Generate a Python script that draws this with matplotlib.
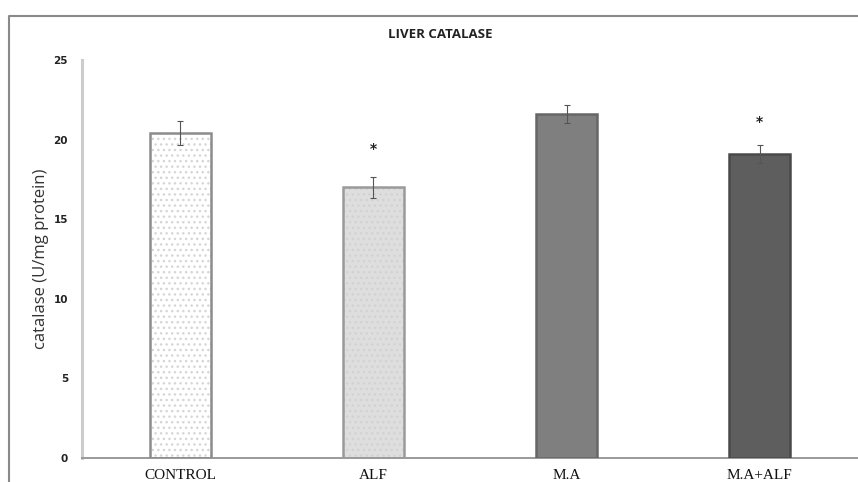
import matplotlib
matplotlib.use("Agg")
import matplotlib.pyplot as plt
from matplotlib.lines import Line2D

categories = ["CONTROL", "ALF", "M.A", "M.A+ALF"]
values = [20.4, 17.0, 21.6, 19.1]
errors = [0.75, 0.65, 0.55, 0.55]
significant = [False, True, False, True]
star_heights = [None, 19.4, None, 21.1]
yticks = [0, 5, 10, 15, 20, 25]

face_colors = ["#ffffff", "#dedede", "#7f7f7f", "#5e5e5e"]
hatch_colors = ["#d6d6d6", "#d2d2d2", None, None]
edge_colors = ["#8c8c8c", "#9a9a9a", "#666666", "#4a4a4a"]

W, H = 858, 482
fig = plt.figure(figsize=(W / 100, H / 100), dpi=100)
ax = fig.add_axes([82 / W, 1 - 458 / H, (858 - 82) / W, (458 - 60) / H])

x = list(range(len(categories)))
bw = 0.316
for i in x:
    if hatch_colors[i]:
        ax.bar(i, values[i], width=bw, color=face_colors[i], edgecolor=hatch_colors[i],
               hatch="...", linewidth=0, zorder=2)
        ax.bar(i, values[i], width=bw, fill=False, edgecolor=edge_colors[i],
               linewidth=1.8, zorder=3)
    else:
        ax.bar(i, values[i], width=bw, color=face_colors[i], edgecolor=edge_colors[i],
               linewidth=1.8, zorder=3)

ax.errorbar(x, values, yerr=errors, fmt="none", ecolor="#555555", elinewidth=0.8,
            capsize=2, capthick=0.8, zorder=4)

for i in x:
    if significant[i]:
        ax.text(i, star_heights[i], "*", ha="center", va="center", fontsize=10,
                fontweight="bold", color="#222222", zorder=5)

ax.set_xlim(-0.51, 3.51)
ax.set_ylim(0, 25)
ax.set_yticks(yticks)
ax.set_yticklabels([str(t) for t in yticks], fontsize=7.5, fontweight="bold",
                   color="#222222", family="DejaVu Sans")
ax.set_xticks(x)
ax.set_xticklabels(categories, fontsize=11, family="Liberation Serif", color="#111111")
ax.tick_params(axis="y", length=0, pad=10)
ax.tick_params(axis="x", length=0, pad=8)

for s in ["top", "right"]:
    ax.spines[s].set_visible(False)
ax.spines["left"].set_color("#cccccc")
ax.spines["left"].set_linewidth(2.2)
ax.spines["bottom"].set_color("#9a9a9a")
ax.spines["bottom"].set_linewidth(1.4)

ax.set_ylabel("catalase (U/mg protein)", fontsize=12, family="Open Sans",
              color="#333333", labelpad=3)

fig.text(440 / W, 1 - 34 / H, "LIVER CATALASE", ha="center", va="center",
         fontsize=9.5, fontweight="bold", family="Open Sans", color="#222222")

# outer chart-area border (left and top edges)
fig.add_artist(Line2D([9 / W, 9 / W, 1.0], [0.0, 1 - 16 / H, 1 - 16 / H],
                      transform=fig.transFigure, color="#8a8a8a", linewidth=1.5))

fig.savefig("out.png", dpi=100)
